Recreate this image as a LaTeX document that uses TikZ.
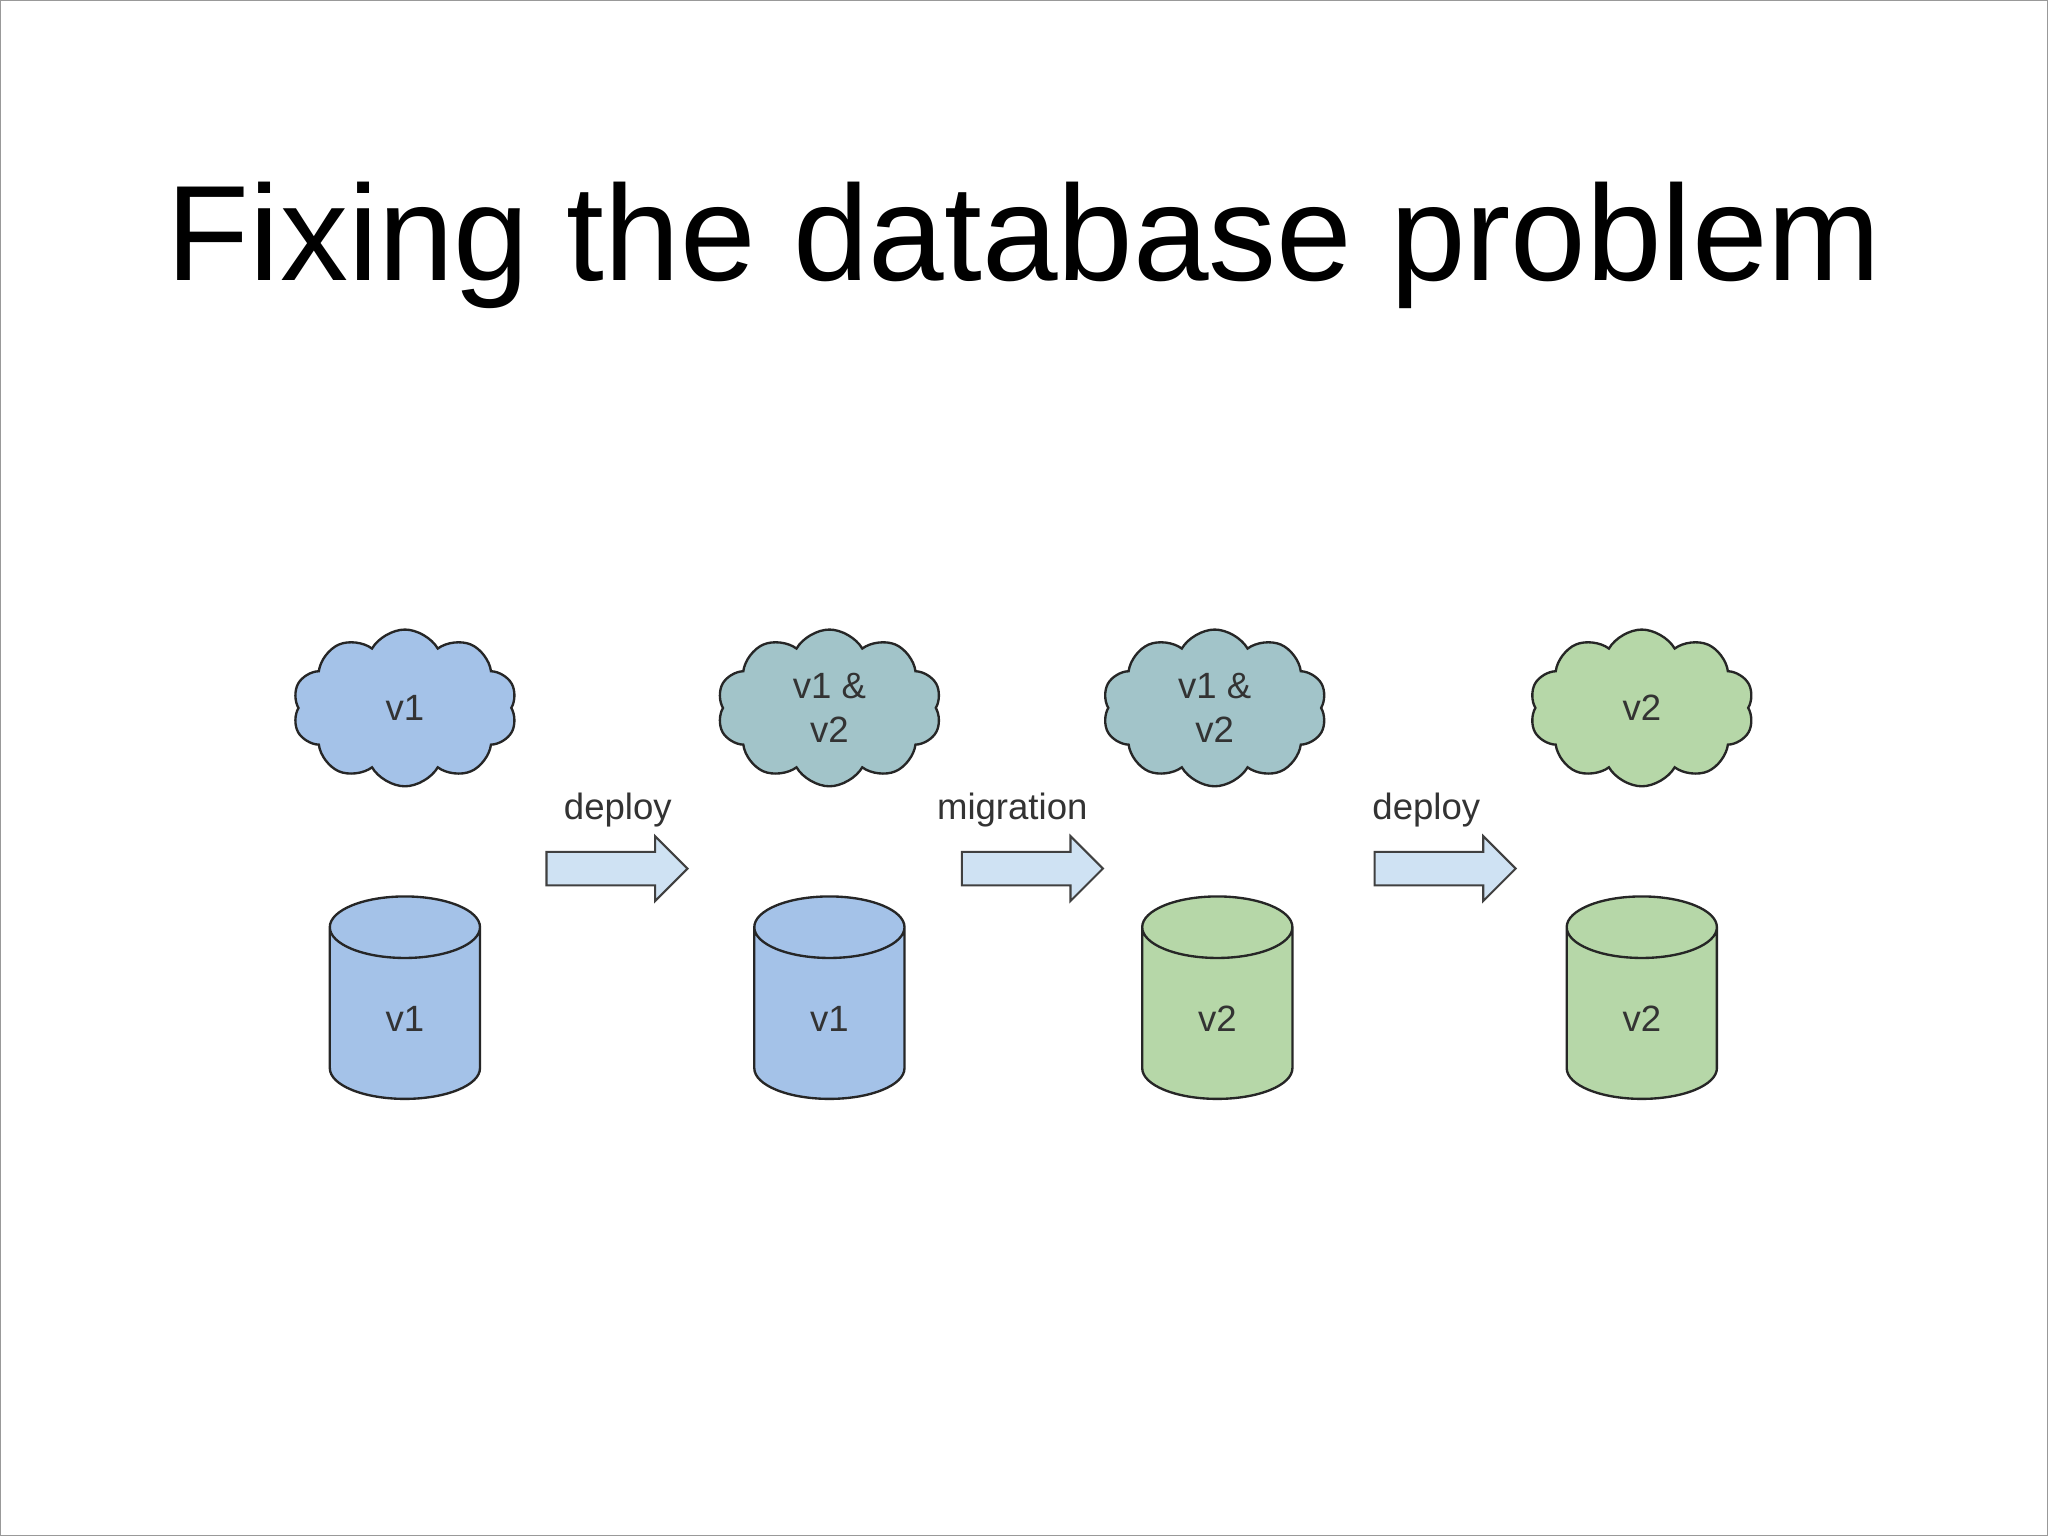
\documentclass[tikz,border=0pt]{standalone}
\usepackage{fontspec}
\setmainfont{Liberation Sans}
\usetikzlibrary{shapes.symbols,shapes.geometric,shapes.arrows}
\definecolor{cblue}{HTML}{A4C2E8}
\definecolor{cteal}{HTML}{A2C4C9}
\definecolor{cgreen}{HTML}{B6D7A8}
\definecolor{carr}{HTML}{CFE2F3}
\tikzset{
 cl/.style={cloud, cloud puffs=10, cloud puff arc=120, aspect=1.45, draw=black!85, line width=1.8pt, minimum width=172pt, minimum height=120pt, inner sep=0pt, align=center, font=\fontsize{28}{34}\selectfont, text=black!80},
 db/.style={cylinder, shape border rotate=90, aspect=1.3, draw=black!85, line width=1.8pt, minimum width=115pt, minimum height=155pt, font=\fontsize{28}{34}\selectfont, text=black!80},
 ar/.style={single arrow, fill=carr, draw=black!75, line width=1.6pt, single arrow head extend=12pt, single arrow tip angle=90, minimum height=108pt, inner xsep=0pt, inner ysep=12pt},
 lb/.style={font=\fontsize{28}{34}\selectfont, text=black!80}
}
\begin{document}
\begin{tikzpicture}[x=1pt,y=-1pt]
\draw[black!40, line width=1pt, fill=white] (0.5,0.5) rectangle (1567.5,1175.5);
\node[font=\fontsize{104}{120}\selectfont] (title) at (784,188) {Fixing the database problem};
\node[cl, fill=cblue] (c1) at (310,542) {v1};
\node[cl, fill=cteal] (c2) at (635,542) {v1 \&\\v2};
\node[cl, fill=cteal] (c3) at (930,542) {v1 \&\\v2};
\node[cl, fill=cgreen] (c4) at (1257,542) {v2};
\node[db, fill=cblue] (d1) at (310,780) {v1};
\node[db, fill=cblue] (d2) at (635,780) {v1};
\node[db, fill=cgreen] (d3) at (932,780) {v2};
\node[db, fill=cgreen] (d4) at (1257,780) {v2};
\node[ar] (a1) at (466,665) {};
\node[ar] (a2) at (784,665) {};
\node[ar] (a3) at (1100,665) {};
\node[lb] (l1) at (473,620) {deploy};
\node[lb] (l2) at (775,620) {migration};
\node[lb] (l3) at (1092,620) {deploy};
\end{tikzpicture}
\end{document}
